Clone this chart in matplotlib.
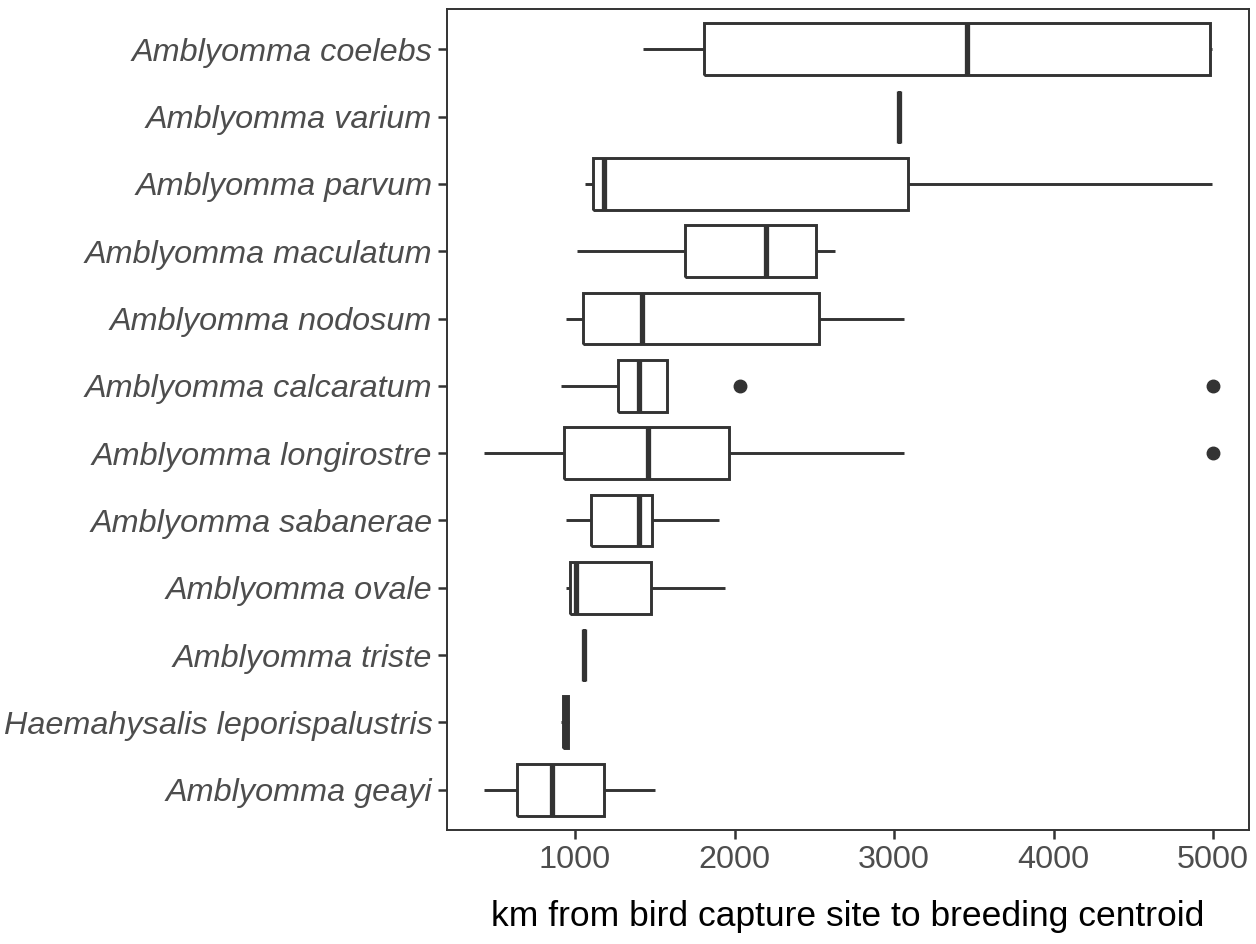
import matplotlib
matplotlib.use("Agg")
import matplotlib.pyplot as plt

# species listed top to bottom as in the figure
species = [
    "Amblyomma coelebs", "Amblyomma varium", "Amblyomma parvum",
    "Amblyomma maculatum", "Amblyomma nodosum", "Amblyomma calcaratum",
    "Amblyomma longirostre", "Amblyomma sabanerae", "Amblyomma ovale",
    "Amblyomma triste", "Haemahysalis leporispalustris", "Amblyomma geayi",
]
whislo = [1424, 3031, 1062, 1013, 945, 915, 433, 941, 941, 1055, 915, 433]
q1     = [1809, 3031, 1114, 1691, 1052, 1267, 932, 1098, 967, 1055, 925, 638]
med    = [3455, 3031, 1179, 2197, 1417, 1401, 1456, 1404, 1005, 1055, 940, 857]
q3     = [4978, 3031, 3090, 2513, 2532, 1574, 1968, 1483, 1476, 1055, 955, 1183]
whishi = [4994, 3031, 4994, 2627, 3064, 1574, 3064, 1900, 1939, 1055, 960, 1499]
fliers = [[], [], [], [], [], [2034, 5000], [5000], [], [], [], [], []]

xticks = [1000, 2000, 3000, 4000, 5000]
xlabel = "km from bird capture site to breeding centroid"

LINE = "#333333"
plt.rcParams["font.family"] = ["Liberation Sans", "DejaVu Sans"]

fig = plt.figure(figsize=(12.56, 9.44), dpi=100)
ax = fig.add_axes([447 / 1256, 1 - 830 / 944, 802 / 1256, 821 / 944])

n = len(species)
stats = []
for i in range(n):
    stats.append(dict(whislo=whislo[i], q1=q1[i], med=med[i], q3=q3[i],
                      whishi=whishi[i], fliers=fliers[i], label=species[i]))
pos = list(range(n, 0, -1))      # first species on top

ax.bxp(stats, positions=pos, vert=False, widths=0.77, showcaps=False,
       boxprops=dict(color=LINE, linewidth=2.1, solid_joinstyle="miter",
                     solid_capstyle="butt"),
       whiskerprops=dict(color=LINE, linewidth=2.1, solid_capstyle="butt"),
       medianprops=dict(color=LINE, linewidth=3.8, solid_capstyle="butt"),
       flierprops=dict(marker="o", markerfacecolor=LINE, markeredgecolor=LINE,
                       markersize=9))

ax.set_xlim(198, 5224)
ax.set_ylim(0.4, n + 0.6)
ax.set_xticks(xticks)
ax.set_xticklabels([str(t) for t in xticks])
ax.set_yticks(pos)
ax.set_yticklabels(species, fontstyle="italic")

ax.tick_params(axis="both", colors=LINE, length=6.5, width=1.8, labelsize=23.3,
               labelcolor="#4D4D4D")
ax.tick_params(axis="y", pad=4)
ax.tick_params(axis="x", pad=4)
for s in ax.spines.values():
    s.set_color(LINE)
    s.set_linewidth(1.4)

ax.set_xlabel(xlabel, fontsize=25.5, color="black", labelpad=18)

fig.savefig("out.png", dpi=100)
